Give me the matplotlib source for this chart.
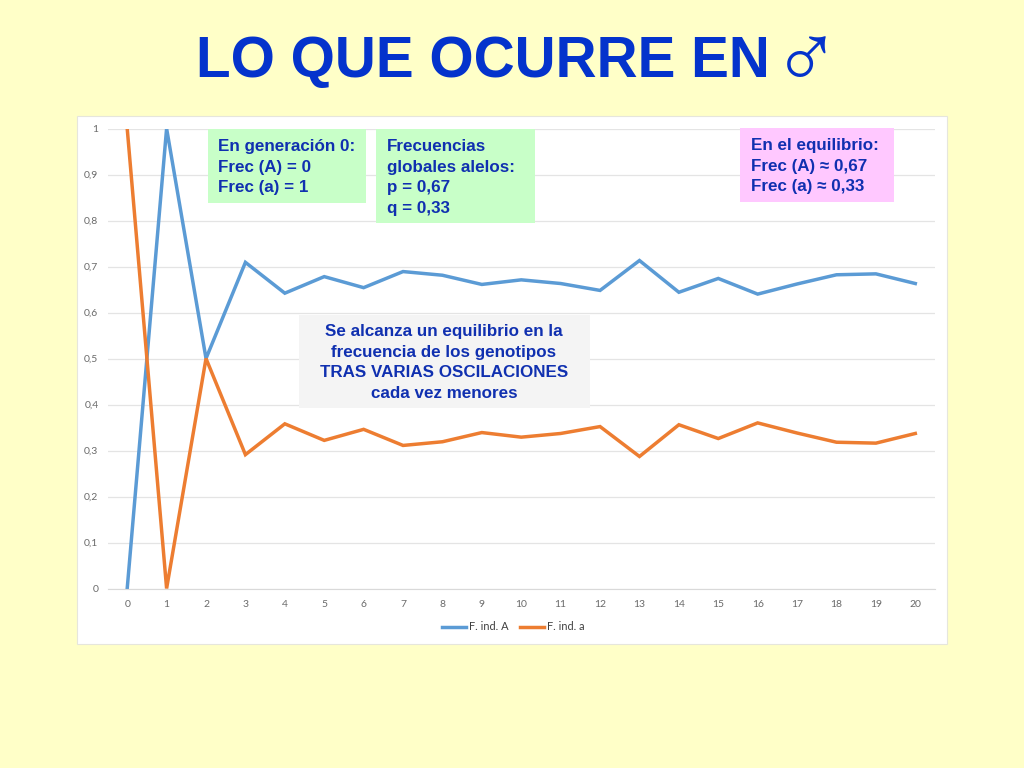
import matplotlib
matplotlib.use("Agg")
from matplotlib import pyplot as plt
from matplotlib.patches import Rectangle

# Datos
generaciones = list(range(21))
frec_A = [0, 1, 0.5, 0.709, 0.642, 0.678, 0.654, 0.689, 0.681, 0.661, 0.671,
          0.663, 0.648, 0.713, 0.644, 0.674, 0.640, 0.662, 0.682, 0.684, 0.663]
frec_a = [1, 0, 0.5, 0.291, 0.358, 0.322, 0.346, 0.311, 0.319, 0.339, 0.329,
          0.337, 0.352, 0.287, 0.356, 0.326, 0.360, 0.338, 0.318, 0.316, 0.337]
marcas_y = [0, 0.1, 0.2, 0.3, 0.4, 0.5, 0.6, 0.7, 0.8, 0.9, 1]
etiquetas_y = ["0", "0,1", "0,2", "0,3", "0,4", "0,5", "0,6", "0,7", "0,8", "0,9", "1"]

ANCHO, ALTO = 1024, 768
FONDO = "#FFFFC8"
AZUL_TITULO = "#0433CC"
AZUL_TEXTO = "#1030B0"
GRIS = "#6A6A6A"

fig = plt.figure(figsize=(ANCHO / 100, ALTO / 100), dpi=100, facecolor=FONDO)


def px(x, y):
    # pixeles de la imagen a coordenadas de figura
    return x / ANCHO, 1 - y / ALTO


def caja(x0, y0, x1, y1, color, borde="none"):
    xf, yf = px(x0, y1)
    fig.add_artist(Rectangle((xf, yf), (x1 - x0) / ANCHO, (y1 - y0) / ALTO,
                             transform=fig.transFigure, facecolor=color,
                             edgecolor=borde, linewidth=0.8, zorder=0 if borde != "none" else 5))


def texto(x, y, s, color=AZUL_TEXTO, **kw):
    xf, yf = px(x, y)
    fig.text(xf, yf, s, family="Liberation Sans", fontweight="bold",
             color=color, zorder=6, **kw)


# Tarjeta blanca del grafico
caja(77, 116, 947, 644, "white", borde="#E6E6DC")

ax = fig.add_axes([107.5 / ANCHO, 1 - 588.5 / ALTO, (935 - 107.5) / ANCHO, 460 / ALTO])
ax.patch.set_alpha(0)
ax.plot(generaciones, frec_A, color="#5B9BD5", lw=2.5, label="F. ind. A", solid_joinstyle="miter")
ax.plot(generaciones, frec_a, color="#ED7D31", lw=2.5, label="F. ind. a", solid_joinstyle="miter")
ax.set_xlim(-0.5, 20.5)
ax.set_ylim(0, 1)
ax.set_xticks(generaciones)
ax.set_yticks(marcas_y)
ax.set_yticklabels(etiquetas_y)
ax.grid(axis="y", color="#E4E4E4", lw=0.9)
ax.set_axisbelow(True)
for lado in ["top", "right", "left"]:
    ax.spines[lado].set_visible(False)
ax.spines["bottom"].set_color("#D9D9D9")
ax.tick_params(axis="x", length=0, labelsize=7.5, labelcolor=GRIS, pad=8)
ax.tick_params(axis="y", length=0, labelsize=7.5, labelcolor=GRIS, pad=6.5)
for et in ax.get_xticklabels() + ax.get_yticklabels():
    et.set_family("Lato")

ax.legend(loc="center", bbox_to_anchor=((513.5 - 107.5) / 827.5, (588.5 - 627) / 460),
          ncol=2, frameon=False, prop={"family": "Lato", "size": 7.9},
          labelcolor="#404040", handlelength=2.2, handletextpad=0.3, columnspacing=1.0)

# Titulo
texto(196, 77, "LO QUE OCURRE EN", color=AZUL_TITULO, fontsize=40.9, ha="left", va="baseline")
xf, yf = px(806, 64)
fig.text(xf, yf, "\u2642", family=["Liberation Sans", "DejaVu Sans"], fontsize=66,
         color=AZUL_TITULO, ha="center", va="center")

# Cajas de texto
caja(208, 129, 366, 203, "#C8FFC8")
caja(376, 129, 535, 223, "#C8FFC8")
caja(740, 128, 894, 202, "#FFC8FF")
caja(299, 315, 590, 408, "#F4F4F4")

for i, linea in enumerate(["En generación 0:", "Frec (A) = 0", "Frec (a) = 1"]):
    texto(218, 151 + i * 20.7, linea, fontsize=12.25, ha="left", va="baseline")
for i, linea in enumerate(["Frecuencias", "globales alelos:", "p = 0,67", "q = 0,33"]):
    texto(387, 151 + i * 20.7, linea, fontsize=12.25, ha="left", va="baseline")
for i, linea in enumerate(["En el equilibrio:", "Frec (A) \u2248 0,67", "Frec (a) \u2248 0,33"]):
    texto(751, 150 + i * 20.7, linea, fontsize=12.25, ha="left", va="baseline")
for i, linea in enumerate(["Se alcanza un equilibrio en la", "frecuencia de los genotipos",
                           "TRAS VARIAS OSCILACIONES", "cada vez menores"]):
    texto(444, 336 + i * 20.7, linea, fontsize=12.25, ha="center", va="baseline")

fig.savefig("out.png", dpi=100, facecolor=FONDO)
plt.close(fig)
